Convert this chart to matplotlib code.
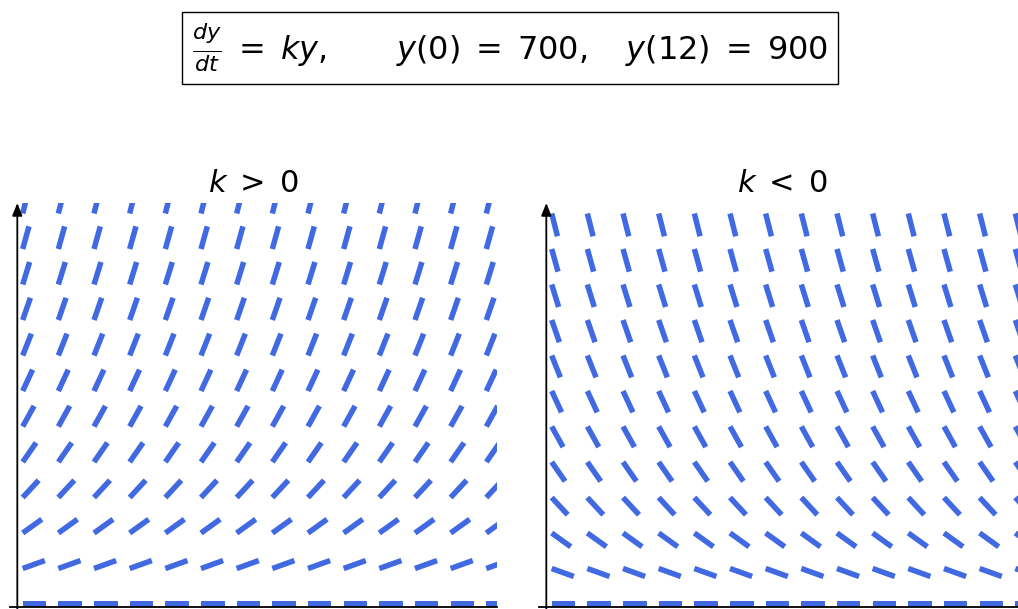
import numpy as np
import matplotlib.pyplot as plt

plt.rcParams['mathtext.fontset'] = 'dejavusans'

# slope field grid: 14 columns in t, 12 rows in y
t_vals = np.arange(0, 14)
y_vals = np.arange(0, 1200, 100)
# growth constant for each panel (slope drawn in screen units per unit of y)
k_vals = [0.0036, -0.0036]
titles = [r'$k\;>\;0$', r'$k\;<\;0$']
header = r'$\frac{dy}{dt}\;=\;ky,\qquad y(0)\;=\;700,\quad y(12)\;=\;900$'

W, H = 1018, 609
fig = plt.figure(figsize=(W / 100, H / 100), dpi=100)

# view limits of each panel
x_lo, x_hi = -0.356, 13.30
y_lo, y_hi = -30, 1129.6
y_axis_t = -0.151
x_axis_y = -9.5

ax_w = 487
ax_h = (y_hi - y_lo) * 0.355
top = 203
lefts = [10, 539]

T, Y = np.meshgrid(t_vals, y_vals)

for left, k, title in zip(lefts, k_vals, titles):
    ax = fig.add_axes([left / W, 1 - (top + ax_h) / H, ax_w / W, ax_h / H])
    ax.set_xlim(x_lo, x_hi)
    ax.set_ylim(y_lo, y_hi)
    ax.axis('off')

    # headless unit segments of the slope field
    slope = k * Y
    norm = np.sqrt(1 + slope ** 2)
    ax.quiver(T, Y, 1 / norm, slope / norm, color='royalblue',
              angles='uv', pivot='tail', units='dots', width=5.5,
              scale_units='dots', scale=1 / 23.5,
              headwidth=0, headlength=0, headaxislength=0, zorder=2)

    # axes drawn by hand: arrow up the y axis, plain line along the bottom
    arrow = dict(arrowstyle='-|>,head_length=0.75,head_width=0.3',
                 lw=1.3, color='black', shrinkA=0, shrinkB=0)
    ax.annotate('', xy=(y_axis_t, y_hi), xytext=(y_axis_t, y_lo),
                arrowprops=arrow, annotation_clip=False, zorder=3)
    ax.plot([x_lo, x_hi], [x_axis_y, x_axis_y], color='black', lw=1.3,
            clip_on=False, zorder=3)

    fig.text((left + ax_w / 2) / W, 1 - 183 / H, title,
             ha='center', va='center', fontsize=22)

fig.text(510 / W, 1 - 48 / H, header, ha='center', va='center', fontsize=23,
         bbox=dict(boxstyle='square,pad=0.3', fc='white', ec='black', lw=1.0))

fig.savefig('out.png', dpi=100)
